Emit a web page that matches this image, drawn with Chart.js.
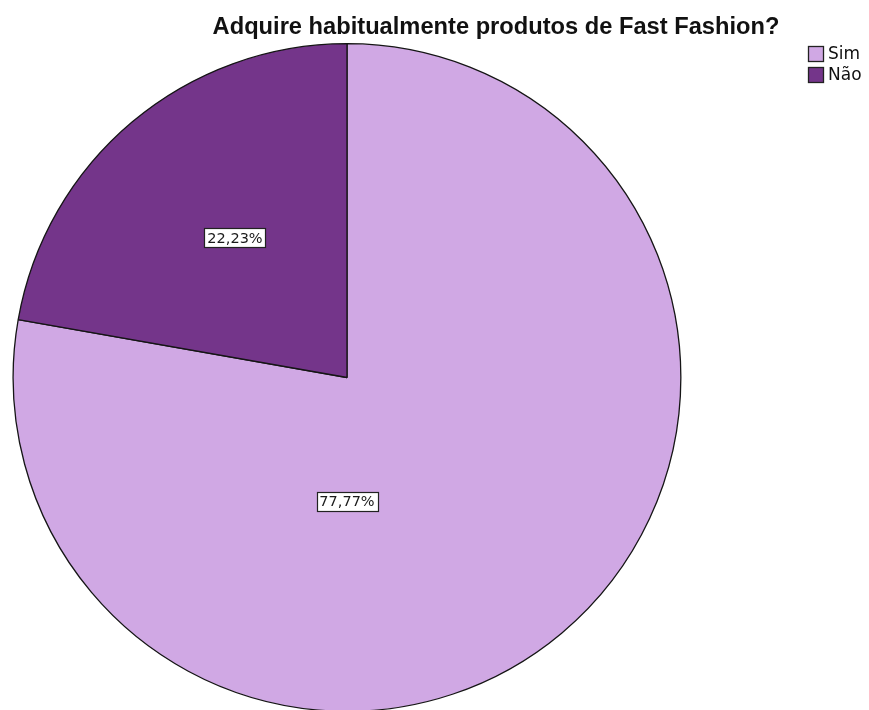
<!DOCTYPE html>
<html>
<head>
<meta charset="utf-8">
<script src="https://cdn.jsdelivr.net/npm/chart.js@4/dist/chart.umd.min.js"></script>
<style>
  html, body { margin: 0; padding: 0; background: #fff; overflow: hidden; }
  #wrap { position: relative; width: 869px; height: 712px; }
</style>
</head>
<body>
<div id="wrap"><canvas id="pieChart" width="869" height="712"></canvas></div>
<script>
// data
var categories = ['Sim', 'Não'];
var percentages = [77.77, 22.23];
var sliceColors = ['#d0a8e4', '#74358a'];
var chartTitle = 'Adquire habitualmente produtos de Fast Fashion?';

// label placement: angle (deg, clockwise from top) and distance as fraction of radius
var labelSpots = [
  { angle: 180, dist: 0.37 },
  { angle: 321.3, dist: 0.537 }
];

function pctText(v) {
  return v.toFixed(2).replace('.', ',') + '%';
}

var overlay = {
  id: 'overlay',
  afterDraw: function(chart) {
    var ctx = chart.ctx;
    ctx.save();

    // title
    var size = 20;
    ctx.font = 'bold ' + size + 'px "Liberation Sans", Arial, sans-serif';
    var w = ctx.measureText(chartTitle).width;
    size = size * 567 / w;
    ctx.font = 'bold ' + size.toFixed(2) + 'px "Liberation Sans", Arial, sans-serif';
    ctx.fillStyle = '#111';
    ctx.textAlign = 'center';
    ctx.textBaseline = 'middle';
    ctx.fillText(chartTitle, 496, 27);

    // legend
    ctx.font = '17px "DejaVu Sans", sans-serif';
    ctx.textAlign = 'left';
    categories.forEach(function(c, i) {
      var y = 46 + i * 21;
      ctx.fillStyle = sliceColors[i];
      ctx.fillRect(808, y, 16, 16);
      ctx.strokeStyle = '#222';
      ctx.lineWidth = 1.3;
      ctx.strokeRect(808.5, y + 0.5, 15, 15);
      ctx.fillStyle = '#111';
      ctx.fillText(c, 828, y + 9);
    });

    // value labels
    var meta = chart.getDatasetMeta(0);
    ctx.font = '14.5px "DejaVu Sans", sans-serif';
    ctx.textAlign = 'center';
    meta.data.forEach(function(arc, i) {
      var p = arc.getProps(['x', 'y', 'outerRadius'], true);
      var a = labelSpots[i].angle * Math.PI / 180 - Math.PI / 2;
      var r = p.outerRadius * labelSpots[i].dist;
      var x = p.x + Math.cos(a) * r;
      var y = p.y + Math.sin(a) * r;
      var txt = pctText(percentages[i]);
      var tw = ctx.measureText(txt).width;
      var bw = Math.round(tw + 6), bh = 19;
      var bx = Math.round(x - bw / 2) + 0.5, by = Math.round(y - bh / 2) + 0.5;
      ctx.fillStyle = '#fff';
      ctx.fillRect(bx, by, bw, bh);
      ctx.strokeStyle = '#222';
      ctx.lineWidth = 1.2;
      ctx.strokeRect(bx, by, bw, bh);
      ctx.fillStyle = '#1a1a1a';
      ctx.fillText(txt, Math.round(x), Math.round(y) + 1);
    });
    ctx.restore();
  }
};

var ctx = document.getElementById('pieChart').getContext('2d');
var pieChart = new Chart(ctx, {
  type: 'pie',
  data: {
    labels: categories,
    datasets: [{
      data: percentages,
      backgroundColor: sliceColors,
      borderColor: '#151515',
      borderWidth: 1.3
    }]
  },
  options: {
    responsive: false,
    animation: false,
    layout: {
      padding: { left: 12, right: 187, top: 43, bottom: 0 }
    },
    plugins: {
      legend: { display: false },
      title: { display: false },
      tooltip: { enabled: false }
    }
  },
  plugins: [overlay]
});
</script>
</body>
</html>
